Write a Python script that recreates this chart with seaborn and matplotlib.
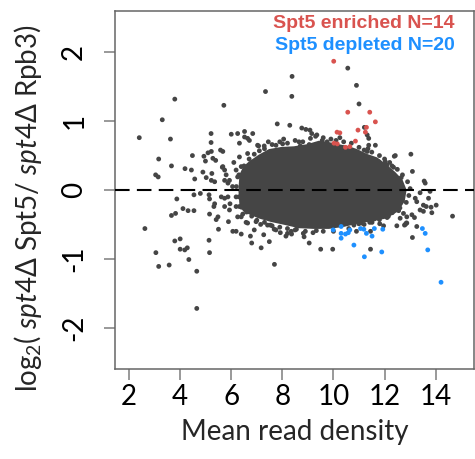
import matplotlib
matplotlib.use("Agg")
import matplotlib.pyplot as plt
import numpy as np
import pandas as pd
import seaborn as sns

# ---------------- data ----------------
other_x = [3.79, 5.71, 3.30, 2.40, 3.62, 5.21, 5.21, 6.00, 5.58, 5.67, 3.16, 4.48, 4.93, 5.09, 5.22,
           4.99, 5.28, 5.39, 3.66, 4.19, 4.44, 3.04, 3.14, 4.57, 4.89, 5.02, 5.24, 5.22, 5.35, 5.65,
           5.74, 5.93, 5.87, 3.87, 4.54, 4.79, 5.13, 5.15, 5.35, 5.32, 5.61, 5.74, 4.11, 4.31, 4.54,
           3.82, 3.66, 5.15, 5.48, 5.41, 5.74, 5.89, 5.50, 2.62, 3.79, 4.00, 4.00, 4.18, 4.28, 3.05,
           5.13, 5.15, 4.34, 3.16, 3.57, 4.65, 4.65, 6.06, 7.34, 8.38, 8.37, 7.80, 8.29, 8.76, 8.92,
           9.08, 10.56, 10.90, 11.00, 11.21, 9.15, 9.56, 9.82, 6.52, 6.64, 6.84, 7.07, 7.29, 7.75, 8.01,
           8.70, 9.05, 11.32, 11.38, 11.64, 11.38, 12.38, 11.77, 12.03, 11.16, 10.86, 11.32, 11.00, 12.09,
           12.29, 13.03, 12.42, 13.09, 13.55, 13.59, 13.39, 13.78, 13.20, 13.26, 13.72, 13.52, 13.63,
           13.82, 14.02, 13.39, 13.52, 13.85, 14.66, 13.07, 13.17, 12.74, 12.87, 12.61, 12.48, 12.81,
           12.87, 13.09, 13.26, 6.58, 6.97, 7.42, 7.53, 6.19, 6.39, 6.75, 6.80, 7.27, 7.49, 7.17, 7.68,
           7.92, 8.14, 8.20, 8.36, 8.55, 8.82, 8.85, 9.05, 9.33, 9.50, 9.97, 7.69, 10.80, 10.99, 10.90,
           11.08, 11.42, 11.51, 11.81, 11.96, 12.78, 12.85, 11.45, 11.45, 6.25, 6.52, 6.71, 6.32, 7.03,
           6.32, 6.64, 6.39, 6.25, 6.32, 6.39, 6.64, 6.90, 6.19, 5.67, 6.19, 5.87, 6.19, 6.25, 5.93, 5.74,
           # points crowding the edge of the central cloud
           7.30, 7.60, 7.90, 8.20, 8.50, 8.80, 9.10, 9.30, 9.60, 9.90, 10.10, 10.40, 10.70, 11.00, 11.20,
           11.50, 11.80, 12.00, 12.20, 12.50, 12.70, 12.90, 13.00, 12.95, 12.85, 12.60, 12.30, 12.10, 11.80,
           11.60, 10.00, 9.60, 9.20, 8.90, 8.50, 8.20, 7.90, 7.60, 7.30, 7.00, 6.80, 6.60, 6.40, 6.30,
           6.20, 6.30, 6.50, 6.70, 6.90, 7.10, 7.45, 8.05, 8.65, 9.35, 9.75, 10.25, 11.35, 12.15, 12.55,
           10.60, 11.20, 8.35, 7.75, 7.15, 6.05, 5.95, 6.10, 5.80, 6.45, 12.35, 12.65]
other_y = [1.32, 1.23, 1.02, 0.76, 0.74, 0.82, 0.69, 0.81, 0.58, 0.56, 0.45, 0.50, 0.49, 0.54, 0.56,
           0.42, 0.46, 0.43, 0.35, 0.31, 0.29, 0.22, 0.19, 0.16, 0.26, 0.18, 0.24, 0.14, 0.12, 0.33,
           0.29, 0.14, 0.10, -0.13, -0.07, -0.05, -0.07, -0.13, -0.20, -0.24, -0.10, -0.12, -0.27, -0.30, -0.30,
           -0.34, -0.37, -0.35, -0.39, -0.43, -0.24, -0.46, -0.57, -0.56, -0.74, -0.71, -0.86, -0.87, -0.84, -0.91,
           -0.73, -0.91, -1.01, -1.11, -1.09, -1.18, -1.72, -0.60, 1.43, 1.65, 1.36, 0.96, 0.94, 0.90, 0.88,
           0.87, 1.77, 1.52, 1.25, 0.91, 0.82, 0.72, 0.65, 0.77, 0.75, 0.82, 0.64, 0.64, 0.65, 0.67,
           0.64, 0.66, 0.80, 0.75, 0.65, 0.65, 0.49, 0.41, 0.41, 0.43, 0.53, 0.56, 0.46, 0.36,
           0.35, 0.52, 0.50, 0.27, 0.13, 0.10, -0.04, -0.02, -0.12, -0.17, -0.12, -0.22, -0.24,
           -0.25, -0.22, -0.29, -0.31, -0.33, -0.38, -0.36, -0.40, -0.34, -0.39, -0.41, -0.52, -0.50,
           -0.48, -0.69, -0.53, -0.47, -0.46, -0.51, -0.51, -0.60, -0.64, -0.67, -0.77, -0.65, -0.75, -0.84, -0.57,
           -0.62, -0.67, -0.63, -0.64, -0.57, -0.63, -0.68, -0.77, -0.59, -0.86, -0.86, -1.08, -0.51, -0.49, -0.60,
           -0.48, -0.47, -0.47, -0.49, -0.52, -0.51, -0.48, -0.86, -0.60, 0.82, 0.85, 0.72, 0.68, 0.65,
           0.48, 0.53, 0.34, 0.19, -0.24, -0.39, -0.48, -0.58, -0.10, 0.34, 0.29, -0.10, -0.24, -0.39, -0.29, 0.14,
           0.60, 0.66, 0.70, 0.68, 0.72, 0.70, 0.75, 0.78, 0.76, 0.74, 0.72, 0.70, 0.68, 0.62, 0.58,
           0.55, 0.50, 0.45, 0.40, 0.30, 0.22, 0.12, 0.02, -0.08, -0.18, -0.26, -0.33, -0.40, -0.43,
           -0.42, -0.60, -0.60, -0.62, -0.60, -0.58, -0.56, -0.54, -0.52, -0.47, -0.44, -0.38, -0.32, -0.25, -0.10,
           0.05, 0.22, 0.35, 0.45, 0.52, 0.57, 0.70, 0.74, 0.70, 0.80, 0.70, 0.76, 0.60, -0.38, -0.30,
           -0.56, -0.50, -0.60, -0.58, -0.50, 0.05, -0.20, 0.40, 0.22, -0.35, 0.33, 0.18]

# outline of the saturated (fully overlapping) central cloud
core_x = [6.32, 6.36, 6.50, 6.71, 7.10, 7.49, 7.96, 8.46, 8.97, 9.43, 9.82, 10.21, 10.60, 10.91, 11.30,
          11.69, 12.08, 12.39, 12.67, 12.82, 12.75, 12.50, 12.05, 11.50, 10.99, 10.41, 9.82, 9.24, 8.66,
          8.07, 7.57, 7.10, 6.71, 6.50, 6.36]
core_y = [0.00, 0.22, 0.33, 0.40, 0.50, 0.58, 0.61, 0.62, 0.65, 0.70, 0.68, 0.65, 0.62, 0.58, 0.51,
          0.46, 0.35, 0.25, 0.14, 0.00, -0.16, -0.30, -0.40, -0.44, -0.47, -0.52, -0.55, -0.55, -0.54,
          -0.49, -0.45, -0.40, -0.34, -0.30, -0.22]

enriched_x = [10.01, 10.56, 11.42, 11.64, 11.29, 10.96, 11.25, 10.14, 10.25, 10.02, 10.15, 10.47, 10.64, 10.86]
enriched_y = [1.87, 1.13, 1.13, 0.99, 0.91, 0.87, 0.84, 0.84, 0.83, 0.68, 0.67, 0.62, 0.63, 0.71]

depleted_x = [9.99, 10.30, 10.30, 10.30, 10.47, 10.58, 10.64, 11.06, 11.19, 11.29, 11.60, 11.51, 11.93,
              10.80, 11.21, 11.89, 13.48, 13.59, 13.69, 14.21]
depleted_y = [-0.58, -0.53, -0.63, -0.70, -0.64, -0.62, -0.58, -0.56, -0.57, -0.63, -0.56, -0.67, -0.57,
              -0.80, -0.97, -0.90, -0.56, -0.63, -0.87, -1.34]

x_ticks = [2, 4, 6, 8, 10, 12, 14]
y_ticks = [-2, -1, 0, 1, 2]
label_enriched = "Spt5 enriched N=14"
label_depleted = "Spt5 depleted N=20"

# ---------------- style ----------------
sns.set_style("ticks")
plt.rcParams["font.family"] = ["Lato", "DejaVu Sans"]
plt.rcParams["mathtext.fontset"] = "custom"
plt.rcParams["mathtext.rm"] = "Lato"
plt.rcParams["mathtext.it"] = "Lato:italic"
plt.rcParams["mathtext.fallback"] = "stixsans"

GREY = "#454545"
RED = "#d9534f"
BLUE = "#1e90ff"
FRAME = "#666666"

fig = plt.figure(figsize=(4.75, 4.59), dpi=100)
ax = fig.add_axes([115 / 475, 1 - 369 / 459, 359 / 475, 358 / 459])

ax.fill(core_x, core_y, color=GREY, lw=1.5, ec=GREY, zorder=1)

df = pd.DataFrame({
    "x": other_x + enriched_x + depleted_x,
    "y": other_y + enriched_y + depleted_y,
    "group": ["other"] * len(other_x) + ["enriched"] * len(enriched_x) + ["depleted"] * len(depleted_x),
})
sns.scatterplot(data=df, x="x", y="y", hue="group",
                palette={"other": GREY, "enriched": RED, "depleted": BLUE},
                s=12, linewidth=0, legend=False, ax=ax, zorder=2)

ax.axhline(0, color="black", lw=1.5, ls=(0, (7, 3.5)), zorder=3)

ax.set_xlim(1.45, 15.5)
ax.set_ylim(-2.6, 2.6)
ax.set_xticks(x_ticks)
ax.set_xticklabels([str(v) for v in x_ticks], fontsize=20)
ax.set_yticks(y_ticks)
ax.set_yticklabels([str(v) for v in y_ticks], fontsize=20, rotation=90, va="center")
ax.tick_params(axis="both", length=8, width=1.2, color="#888888", labelcolor="black")
ax.tick_params(axis="x", pad=3)
ax.tick_params(axis="y", pad=12)
for sp in ax.spines.values():
    sp.set_visible(True)
    sp.set_color(FRAME)
    sp.set_linewidth(1.1)

ax.set_xlabel("Mean read density", fontsize=20, labelpad=6)
ax.set_ylabel("")
fig.text(28 / 475, 1 - 208 / 459,
         r"log$_2$( $\mathit{spt4Δ}$ Spt5/ $\mathit{spt4Δ}$ Rpb3)",
         rotation=90, fontsize=20, ha="center", va="center")

ax.text(0.947, 0.966, label_enriched, transform=ax.transAxes, ha="right", va="center",
        color=RED, fontsize=14, fontweight="bold", family=["Liberation Sans", "DejaVu Sans"])
ax.text(0.947, 0.905, label_depleted, transform=ax.transAxes, ha="right", va="center",
        color=BLUE, fontsize=14, fontweight="bold", family=["Liberation Sans", "DejaVu Sans"])

fig.savefig("out.png", dpi=100)
